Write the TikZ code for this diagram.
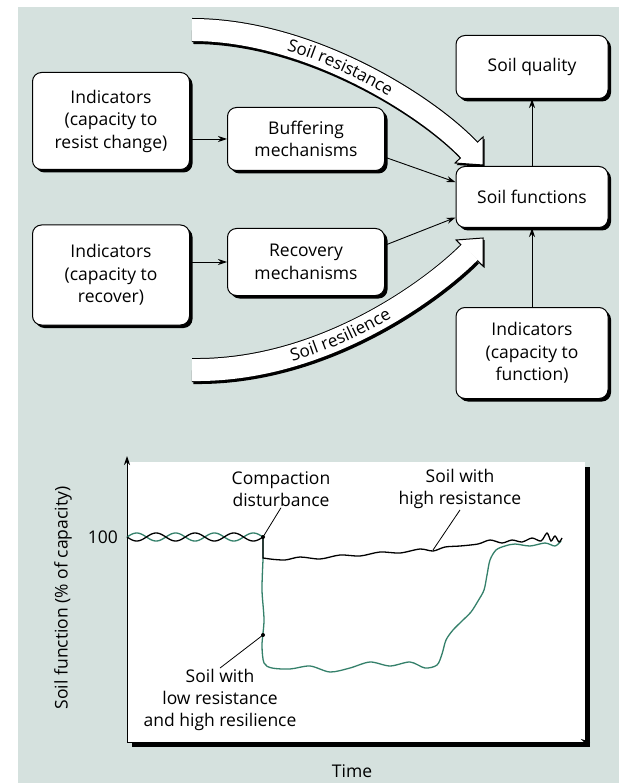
\documentclass[tikz,border=0pt]{standalone}
\usepackage{fontspec}
\setmainfont{Open Sans}
\usetikzlibrary{arrows.meta,shadows,decorations.text}
\definecolor{pagebg}{RGB}{213,225,222}
\definecolor{curvegreen}{RGB}{52,128,106}
\begin{document}
\begin{tikzpicture}[x=1pt,y=-1pt,>={Stealth[length=9pt,width=6pt]},
  box/.style={draw,line width=1pt,fill=white,rounded corners=9pt,align=center,inner sep=2pt,
    font=\fontsize{17.5}{22.5}\selectfont,
    drop shadow={shadow xshift=3pt,shadow yshift=-3pt,fill=black,opacity=1}},
  link/.style={->,line width=0.9pt},
  chartlabel/.style={align=center,inner sep=1pt,font=\fontsize{17.5}{22}\selectfont}]
\useasboundingbox (0,0) rectangle (619,783);
\fill[pagebg] (18,7) rectangle (619,783);
% soil resistance band
\draw[line width=24pt,shift={(1.5,2)}] (192,30) .. controls (310,30) and (429,107) .. (469,150);
\draw[line width=24pt] (192,30) .. controls (310,30) and (429,107) .. (469,150);
\fill[shift={(1.5,2)}] (483,137) -- (483,165) -- (455,163) -- cycle;
\filldraw[fill=white,line width=1pt] (483,137) -- (483,165) -- (455,163) -- cycle;
\draw[line width=22pt,white,shorten >=-1.5pt] (192,30) .. controls (310,30) and (429,107) .. (469,150);
\path[decorate,decoration={text along path,text align=center,raise=-5.5pt,
  text={|\fontsize{17}{17}\selectfont|Soil resistance}}] (192,30) .. controls (310,30) and (429,107) .. (469,150);
% soil resilience band
\draw[line width=24pt,shift={(1.5,2)}] (192,370) .. controls (320,372) and (430,292) .. (469,253);
\draw[line width=24pt] (192,370) .. controls (320,372) and (430,292) .. (469,253);
\fill[shift={(1.5,2)}] (483,238) -- (483,266) -- (456,240) -- cycle;
\filldraw[fill=white,line width=1pt] (483,238) -- (483,266) -- (456,240) -- cycle;
\draw[line width=22pt,white,shorten >=-1.5pt] (192,370) .. controls (320,372) and (430,292) .. (469,253);
\path[decorate,decoration={text along path,text align=center,raise=-5.5pt,
  text={|\fontsize{17}{17}\selectfont|Soil resilience}}] (192,370) .. controls (320,372) and (430,292) .. (469,253);
% boxes
\node[box,minimum width=157pt,minimum height=97pt] (ind1) at (111,121) {Indicators\\(capacity to\\resist change)};
\node[box,minimum width=157pt,minimum height=63pt] (buf) at (306,139) {Buffering\\mechanisms};
\node[box,minimum width=157pt,minimum height=100pt] (ind2) at (111,275) {Indicators\\(capacity to\\recover)};
\node[box,minimum width=157pt,minimum height=67pt] (rec) at (306,262) {Recovery\\mechanisms};
\node[box,minimum width=152pt,minimum height=63pt] (qual) at (532,67) {Soil quality};
\node[box,minimum width=152pt,minimum height=61pt] (func) at (532,197) {Soil functions};
\node[box,minimum width=152pt,minimum height=91pt] (ind3) at (532,353) {Indicators\\(capacity to\\function)};
\draw[link] (ind1.east |- buf.west) -- (buf.west);
\draw[link] (ind2.east |- rec.west) -- (rec.west);
\draw[link] (buf.-13) -- (func.169);
\draw[link] (rec.12) -- (func.195);
\draw[link] (func.north) -- (qual.south);
\draw[link] (ind3.north) -- (func.south);
% chart
\fill (132,467) rectangle (590,747);
\fill[white] (127,462) rectangle (585,742);
\coordinate (o) at (127,742);
\draw[->,line width=1pt] (o) -- (127,456);
\draw[->,line width=1pt] (o) -- (590,742);
\node[chartlabel,anchor=east] (hundred) at (119,537) {100};
\node[chartlabel,rotate=90] (ylab) at (63,598) {Soil function (\% of capacity)};
\node[chartlabel] (time) at (352,771) {Time};
\coordinate (drop) at (263,537);
\coordinate (lowdot) at (263,635);
\coordinate (hidot) at (433,550);
\draw[curvegreen,line width=1.3pt] plot[domain=127:263,samples=120,smooth] (\x,{537-4*sin((\x-127)/136*1260)});
\draw[curvegreen,line width=1.3pt] (drop) -- plot[smooth,tension=0.5] coordinates {(263,560) (262,590) (264,620) (262,645) (264,663) (272,668) (290,669) (310,666) (330,672) (350,668) (370,662) (390,666) (410,662) (425,668) (437,665) (442,654) (446,640) (453,630) (462,621) (471,612) (478,601) (484,590) (487,575) (490,560) (496,550) (505,546) (515,544) (530,546) (545,543) (555,546) (561,541)};
\draw[line width=1.3pt] plot[domain=127:263,samples=120,smooth] (\x,{537+4*sin((\x-127)/136*1260)});
\draw[line width=1.3pt] (drop) -- (263,558) -- plot[smooth,tension=0.5] coordinates {(270,559) (285,560) (300,557) (320,559) (340,555) (360,556) (380,552) (400,553) (420,549) (433,551) (445,547) (460,546) (478,544) (490,540) (502,543) (512,540) (522,542) (532,538) (541,541) (547,533) (551,541) (555,536) (559,542) (562,538)};
\fill (drop) circle (2pt);
\fill (lowdot) circle (2pt);
\node[chartlabel] (compact) at (281,489) {Compaction\\disturbance};
\node[chartlabel] (hires) at (460,489) {Soil with\\high resistance};
\node[chartlabel] (lowres) at (220,700) {Soil with\\low resistance\\and high resilience};
\draw[line width=0.8pt] (compact.south) -- (drop);
\draw[line width=0.8pt] (hires.south) -- (hidot);
\draw[line width=0.8pt] (lowres.north) -- (lowdot);
\end{tikzpicture}
\end{document}
